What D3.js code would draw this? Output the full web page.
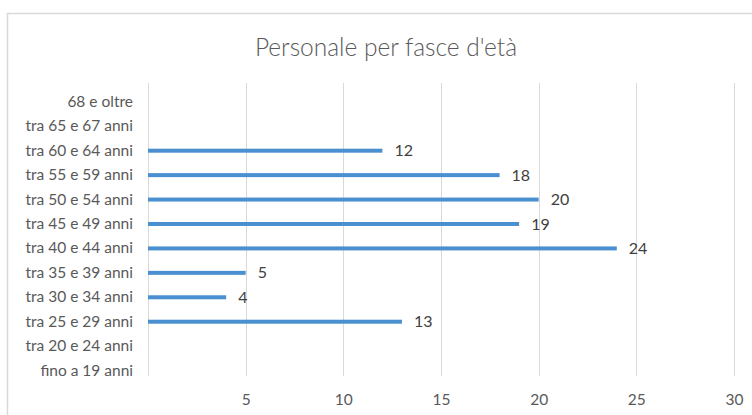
<!DOCTYPE html>
<html>
<head>
<meta charset="utf-8">
<script src="https://cdn.jsdelivr.net/npm/d3@7"></script>
<style>
  html, body { margin: 0; padding: 0; background: #fff; }
  svg { display: block; }
</style>
</head>
<body>
<svg id="chart" width="752" height="415"></svg>
<script>
// Age bands, top to bottom
const categories = [
  "68 e oltre",
  "tra 65 e 67 anni",
  "tra 60 e 64 anni",
  "tra 55 e 59 anni",
  "tra 50 e 54 anni",
  "tra 45 e 49 anni",
  "tra 40 e 44 anni",
  "tra 35 e 39 anni",
  "tra 30 e 34 anni",
  "tra 25 e 29 anni",
  "tra 20 e 24 anni",
  "fino a 19 anni"
];
// Staff count per band
const values = [0, 0, 12, 18, 20, 19, 24, 5, 4, 13, 0, 0];
const xTicks = [5, 10, 15, 20, 25, 30];
const title = "Personale per fasce d'età";

const svg = d3.select("#chart");
const font = "Lato, 'Open Sans', sans-serif";

// chart frame (top and left edges visible)
svg.append("path")
  .attr("d", "M7.5,415 L7.5,13.5 L752,13.5")
  .attr("fill", "none")
  .attr("stroke", "#d9d9d9")
  .attr("stroke-width", 1.5);

svg.append("text")
  .attr("x", 386).attr("y", 56)
  .attr("text-anchor", "middle")
  .attr("font-family", font)
  .attr("font-size", 24.5)
  .attr("font-weight", 300)
  .attr("fill", "#595959")
  .text(title);

const x = d3.scaleLinear().domain([0, 30]).range([148, 734]);
const gridTop = 83, gridBottom = 376;
const y = d3.scaleBand().domain(categories).range([89.6, 382.8]);

// vertical gridlines
svg.append("g")
  .selectAll("line")
  .data([0].concat(xTicks))
  .join("line")
  .attr("x1", d => Math.round(x(d)) + 0.5)
  .attr("x2", d => Math.round(x(d)) + 0.5)
  .attr("y1", gridTop).attr("y2", gridBottom)
  .attr("stroke", "#d9d9d9")
  .attr("stroke-width", 1);

// x axis labels
const xAxis = d3.axisBottom(x).tickValues(xTicks).tickSize(0).tickPadding(0);
const gx = svg.append("g").attr("transform", "translate(0,405)").call(xAxis);
gx.select(".domain").remove();
gx.selectAll("text")
  .attr("dy", 0)
  .attr("font-family", font)
  .attr("font-size", 15.5)
  .attr("fill", "#595959");

// y axis labels
const yAxis = d3.axisLeft(y).tickSize(0).tickPadding(0);
const gy = svg.append("g").attr("transform", "translate(133,0)").call(yAxis);
gy.select(".domain").remove();
gy.selectAll("text")
  .attr("font-family", font)
  .attr("font-size", 15.5)
  .attr("fill", "#595959");

// bars
const barH = 4;
const data = categories.map((c, i) => ({ c, v: values[i] }));
svg.append("g")
  .selectAll("rect")
  .data(data.filter(d => d.v > 0))
  .join("rect")
  .attr("x", x(0))
  .attr("y", d => y(d.c) + y.bandwidth() / 2 - barH / 2)
  .attr("width", d => x(d.v) - x(0))
  .attr("height", barH)
  .attr("fill", "#4a90d0");

// value labels
svg.append("g")
  .selectAll("text")
  .data(data.filter(d => d.v > 0))
  .join("text")
  .attr("x", d => x(d.v) + 12)
  .attr("y", d => y(d.c) + y.bandwidth() / 2)
  .attr("dy", "0.35em")
  .attr("font-family", font)
  .attr("font-size", 16)
  .attr("fill", "#404040")
  .text(d => d.v);
</script>
</body>
</html>
